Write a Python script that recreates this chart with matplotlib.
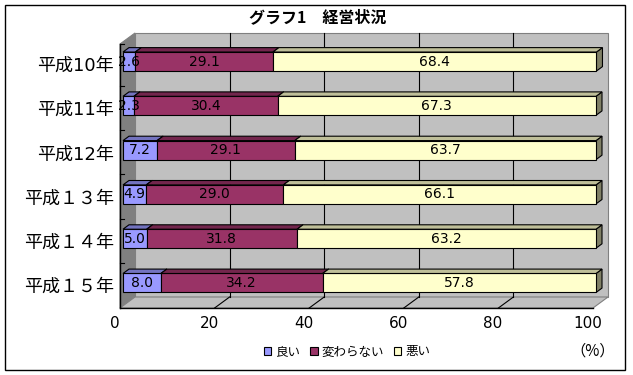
import matplotlib
matplotlib.use('Agg')
import matplotlib.pyplot as plt
from matplotlib.patches import Polygon, Rectangle

plt.rcParams['font.family'] = ['DejaVu Sans', 'Noto Sans CJK JP']

# data (%)
years = ['平成10年', '平成11年', '平成12年', '平成１３年', '平成１４年', '平成１５年']
good = [2.6, 2.3, 7.2, 4.9, 5.0, 8.0]
same = [29.1, 30.4, 29.1, 29.0, 31.8, 34.2]
bad = [68.4, 67.3, 63.7, 66.1, 63.2, 57.8]
series_names = ['良い', '変わらない', '悪い']
colors = ['#9999FF', '#993366', '#FFFFCC']
xticks = [0, 20, 40, 60, 80, 100]

W, H = 633, 375
fig = plt.figure(figsize=(W / 100, H / 100), dpi=100)
fig.patch.set_facecolor('white')
fig.patches.append(Rectangle((5 / W, 5 / H), 620 / W, 365 / H, transform=fig.transFigure,
                             fill=False, ec='black', lw=1.0))

# axes = front plane of the 3d box
ax = fig.add_axes([120 / W, 67 / H, 473 / W, 264 / H])
ytop, ybot = -0.445, 5.515
ax.set_xlim(0, 100)
ax.set_ylim(ybot, ytop)
ax.axis('off')

ux = 100 / 473            # value units per pixel
uy = (ybot - ytop) / 264  # category units per pixel


def pt(v, c, d):
    # d = depth, 0 front .. 1 back wall
    return (v + d * 15 * ux, c - d * 11 * uy)


def poly(points, fc, ec='#808080', z=1, lw=0.8):
    ax.add_patch(Polygon(points, closed=True, fc=fc, ec=ec, lw=lw, zorder=z, clip_on=False))


def shade(hexcol, k):
    r, g, b = matplotlib.colors.to_rgb(hexcol)
    return (r * k, g * k, b * k)


# back wall, left wall, floor
poly([pt(0, ytop, 1), pt(100, ytop, 1), pt(100, ybot, 1), pt(0, ybot, 1)], '#C0C0C0')
poly([pt(0, ytop, 0), pt(0, ytop, 1), pt(0, ybot, 1), pt(0, ybot, 0)], '#808080', ec='#808080')
poly([pt(0, ybot, 0), pt(0, ybot, 1), pt(100, ybot, 1), pt(100, ybot, 0)], '#C0C0C0')

for v in xticks[1:-1]:
    x0, y0 = pt(v, ytop, 1)
    x1, y1 = pt(v, ybot, 1)
    ax.plot([x0, x1], [y0, y1], color='black', lw=0.8, zorder=1.5, clip_on=False)
    x2, y2 = pt(v, ybot, 0)
    ax.plot([x1, x2], [y1, y2], color='black', lw=0.8, zorder=1.5, clip_on=False)

# axis lines on the front plane
ax.plot([0, 0], [ytop, ybot], color='black', lw=1.0, zorder=1.6, clip_on=False)
ax.plot([0, 100], [ybot, ybot], color='black', lw=1.0, zorder=1.6, clip_on=False)
for c in [ytop, 0.5, 1.5, 2.5, 3.5, 4.5]:
    ax.plot([0, 4 * ux], [c, c], color='black', lw=0.8, zorder=1.6, clip_on=False)

# bars
d0, d1 = 0.2, 0.6
hh = 0.5 * 19 * uy
series = [good, same, bad]
for i, year in enumerate(years):
    left = 0
    for vals, col in zip(series, colors):
        val = vals[i]
        a, b = left, left + val
        poly([pt(a, i - hh, d0), pt(b, i - hh, d0), pt(b, i + hh, d0), pt(a, i + hh, d0)],
             col, ec='black', z=3)
        poly([pt(a, i - hh, d0), pt(b, i - hh, d0), pt(b, i - hh, d1), pt(a, i - hh, d1)],
             shade(col, 0.75), ec='black', z=3)
        poly([pt(b, i - hh, d0), pt(b, i + hh, d0), pt(b, i + hh, d1), pt(b, i - hh, d1)],
             shade(col, 0.5), ec='black', z=2)
        tx, ty = pt((a + b) / 2, i, d0)
        ax.text(tx, ty, f'{val:.1f}', ha='center', va='center', fontsize=10, zorder=5)
        left = b
    ax.text(-6 * ux, i + 2 * uy, year, ha='right', va='center', fontsize=13,
            family=['DejaVu Sans', 'Noto Sans CJK JP'])

for v in xticks:
    ax.text(v - 5.5 * ux, ybot + 15.5 * uy, str(v), ha='center', va='center', fontsize=11)

# title, legend, unit
fig.text(318 / W, 1 - 17 / H, 'グラフ1　経営状況', ha='center', va='center',
         fontsize=11.5, fontweight='bold', family=['Noto Sans CJK JP'])

handles = [Rectangle((0, 0), 1, 1, fc=c, ec='black', lw=0.8) for c in colors]
fig.legend(handles, series_names, loc='center', bbox_to_anchor=(347 / W, 1 - 352 / H),
           ncol=3, frameon=False, fontsize=9, handlelength=0.6, handleheight=0.6,
           handletextpad=0.3, columnspacing=0.8, borderpad=0,
           prop={'family': ['Noto Sans CJK JP'], 'size': 9})

fig.text(593 / W, 1 - 351 / H, '（%）', ha='center', va='center', fontsize=11,
         family=['Noto Sans CJK JP', 'DejaVu Sans'])

fig.savefig('out.png', dpi=100)
